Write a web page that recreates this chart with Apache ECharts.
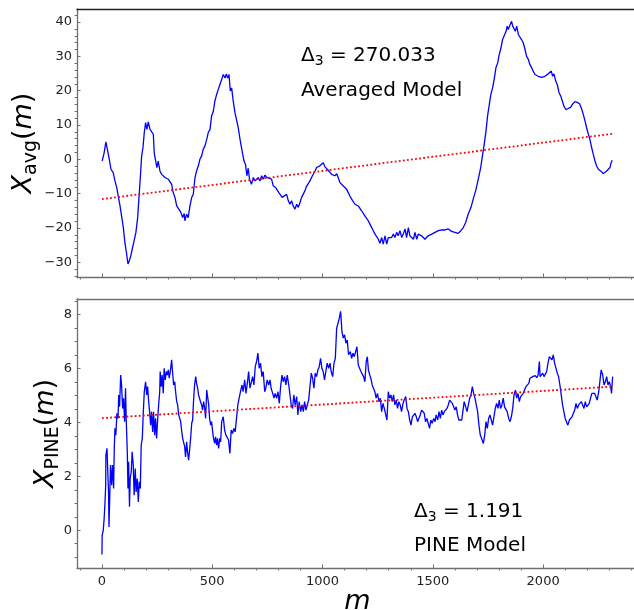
<!DOCTYPE html>
<html>
<head>
<meta charset="utf-8">
<script src="https://cdn.jsdelivr.net/npm/echarts@6/dist/echarts.min.js"></script>
<style>
  html, body { margin: 0; padding: 0; background: #ffffff; }
  #chart { width: 634px; height: 610px; }
</style>
</head>
<body>
<div id="chart"></div>
<script>
// Major tick positions
const mTicks = [0, 500, 1000, 1500, 2000];
const avgTicks = [-30, -20, -10, 0, 10, 20, 30, 40];
const pineTicks = [0, 2, 4, 6, 8];

// Averaged model trajectory: [m, X_avg(m)]
const avgSeries = [
  [1,-0.5],[10,1.9],[18,5.1],[26,4.8],[32,0.5],[41,-2.9],[51,-3.9],[59,-6.3],[67,-8.2],[74,-10.7],
  [82,-13.6],[89,-16.5],[97,-19.9],[104,-24.2],[112,-27.6],[118,-30.5],[125,-29.4],[131,-28.1],[139,-25.7],[146,-23.7],
  [154,-21.3],[162,-17.0],[168,-11.1],[174,-5.3],[180,1.0],[186,3.4],[192,7.8],[198,10.7],[204,8.7],[210,10.9],
  [218,8.7],[225,8.2],[233,7.3],[237,1.9],[243,2.4],[249,-2.4],[255,-0.5],[263,-3.4],[271,-4.4],[278,-4.8],
  [286,-5.3],[293,-5.1],[301,-5.8],[308,-6.3],[316,-7.3],[323,-9.7],[331,-11.1],[339,-13.6],[346,-13.1],[354,-15.0],
  [361,-16.0],[366,-17.0],[373,-15.8],[376,-17.9],[384,-16.0],[391,-17.0],[399,-13.6],[407,-11.1],[414,-10.2],[422,-5.3],
  [429,-3.4],[437,-1.9],[444,0],[452,1.0],[459,2.9],[467,3.9],[475,5.8],[482,7.8],[490,8.7],[497,12.6],
  [505,14.0],[512,17.0],[520,18.9],[527,20.3],[535,21.8],[543,23.3],[550,24.7],[558,23.7],[564,24.9],[570,23.7],
  [576,24.7],[582,19.9],[588,20.8],[595,17.0],[603,13.6],[611,13.1],[618,9.2],[626,5.8],[633,5.3],[638,1.5],
  [644,-0.5],[651,-1.5],[657,-4.8],[663,-2.6],[669,-5.8],[678,-7.3],[686,-5.3],[694,-6.3],[701,-6.8],[709,-5.3],
  [716,-6.3],[724,-4.8],[731,-5.8],[739,-4.6],[747,-5.3],[754,-5.1],[769,-5.8],[777,-7.8],[787,-8.2],[796,-8.2],
  [802,-9.7],[811,-9.2],[817,-11.1],[826,-10.7],[837,-10.2],[845,-12.1],[852,-13.1],[860,-12.1],[867,-13.6],[875,-14.5],
  [883,-13.1],[890,-14.0],[898,-12.6],[905,-11.1],[913,-10.7],[920,-9.2],[928,-7.8],[935,-8.2],[943,-6.3],[950,-5.3],
  [958,-4.8],[966,-3.4],[973,-2.4],[981,-1.9],[988,-1.9],[996,-1.5],[1003,-1.0],[1011,-2.2],[1018,-1.9],[1026,-3.2],
  [1034,-2.9],[1041,-4.4],[1049,-4.2],[1056,-4.8],[1064,-4.2],[1071,-5.3],[1079,-6.8],[1086,-6.3],[1094,-7.8],[1102,-7.3],
  [1109,-8.7],[1117,-9.2],[1124,-10.7],[1132,-11.6],[1139,-12.1],[1147,-13.1],[1155,-12.6],[1162,-13.6],[1170,-14.0],[1177,-15.0],
  [1185,-15.5],[1192,-16.5],[1200,-17.0],[1207,-17.9],[1215,-18.9],[1223,-19.9],[1230,-20.8],[1238,-21.8],[1245,-22.3],[1253,-23.3],
  [1260,-24.5],[1268,-22.8],[1275,-24.7],[1283,-22.3],[1291,-24.7],[1298,-22.8],[1306,-22.3],[1313,-22.8],[1321,-21.8],[1328,-22.8],
  [1336,-21.3],[1343,-22.3],[1351,-20.8],[1359,-22.8],[1366,-21.8],[1374,-20.3],[1381,-22.8],[1389,-19.9],[1396,-22.3],[1404,-21.8],
  [1412,-23.3],[1419,-21.3],[1427,-23.3],[1434,-21.8],[1442,-22.3],[1449,-22.3],[1457,-21.8],[1464,-23.3],[1472,-22.8],[1479,-22.3],
  [1487,-22.6],[1495,-21.8],[1502,-22.3],[1510,-21.3],[1517,-20.8],[1525,-20.8],[1540,-20.6],[1555,-20.6],[1570,-20.3],[1585,-21.0],
  [1600,-21.3],[1615,-21.6],[1627,-20.8],[1638,-19.9],[1649,-18.4],[1660,-16.0],[1673,-14.0],[1683,-11.6],[1694,-9.2],[1706,-5.8],
  [1717,-2.4],[1726,1.5],[1733,4.4],[1741,8.2],[1748,12.6],[1756,16.0],[1763,18.9],[1771,20.8],[1778,23.3],[1786,26.7],
  [1794,28.1],[1801,30.5],[1809,32.5],[1816,34.9],[1824,35.4],[1832,37.3],[1837,38.8],[1842,37.8],[1850,39.2],[1857,40.2],
  [1862,38.8],[1868,39.2],[1874,37.3],[1880,38.8],[1888,36.3],[1895,36.8],[1902,34.9],[1910,33.9],[1918,32.0],[1925,30.0],
  [1933,29.1],[1940,27.6],[1948,26.7],[1955,25.7],[1963,24.7],[1970,24.2],[1978,24.2],[1985,23.7],[1993,23.9],[2000,24.2],
  [2008,24.2],[2016,24.7],[2023,24.9],[2031,24.7],[2037,25.7],[2043,24.2],[2049,24.9],[2057,22.8],[2064,21.8],[2072,19.4],
  [2080,18.4],[2087,17.0],[2094,15.5],[2103,14.5],[2114,14.8],[2125,15.2],[2135,16.2],[2144,16.8],[2155,16.6],[2165,16.2],
  [2174,14.8],[2182,13.1],[2190,11.1],[2197,9.2],[2205,7.3],[2212,5.8],[2220,3.4],[2227,1.5],[2235,-0.5],[2242,-1.9],
  [2250,-2.9],[2257,-3.4],[2265,-3.6],[2272,-4.2],[2280,-4.2],[2288,-3.4],[2295,-2.9],[2303,-2.4],[2307,-1.2],[2313,-0.3]
];

// PINE model trajectory: [m, X_PINE(m)]
const pineSeries = [
  [0,-0.9],[1,-0.19],[6,0.0],[10,0.43],[14,1.05],[17,1.67],[18,2.79],[23,3.04],[26,2.29],[30,1.42],
  [32,0.12],[36,1.42],[39,2.42],[44,1.67],[48,2.42],[53,1.55],[56,3.04],[59,3.78],[63,3.53],[68,4.34],
  [73,4.15],[76,5.02],[80,4.58],[85,5.76],[89,5.39],[94,4.52],[98,4.90],[103,4.03],[107,5.27],[110,4.15],
  [115,2.91],[118,1.55],[121,2.54],[125,0.87],[128,1.92],[133,2.17],[137,2.91],[142,2.42],[146,1.30],[151,2.29],
  [155,1.42],[160,1.92],[165,1.05],[169,1.80],[174,1.55],[178,3.16],[183,3.41],[187,4.28],[192,5.14],[198,5.51],
  [203,5.02],[207,5.33],[212,4.77],[216,4.40],[221,3.90],[225,4.40],[230,3.65],[234,4.40],[239,3.53],[243,4.15],
  [248,3.41],[252,4.03],[257,4.65],[262,5.14],[264,5.89],[269,5.33],[273,5.76],[278,5.08],[282,6.01],[287,5.58],
  [292,5.89],[296,5.76],[301,5.95],[305,5.64],[310,5.89],[316,6.32],[320,5.89],[325,5.39],[330,5.51],[334,5.14],
  [339,4.77],[343,4.65],[348,4.28],[352,4.28],[357,4.03],[361,3.72],[366,3.41],[370,3.35],[375,3.10],[379,2.72],
  [384,3.28],[388,2.91],[393,2.60],[398,3.04],[402,3.41],[407,3.97],[411,4.09],[416,4.90],[420,5.39],[425,5.70],
  [429,5.45],[434,5.27],[438,5.02],[443,5.08],[447,4.77],[452,4.65],[456,4.46],[461,4.77],[466,4.52],[470,4.15],
  [475,5.20],[479,4.96],[484,4.65],[488,4.15],[493,3.90],[497,4.03],[502,3.65],[506,3.41],[511,3.22],[515,3.47],
  [520,3.16],[524,3.41],[529,3.04],[534,3.41],[538,3.28],[543,4.03],[550,4.21],[556,3.72],[562,3.53],[568,3.59],
  [574,3.35],[580,2.85],[586,3.72],[592,3.59],[598,3.78],[604,3.65],[610,4.15],[616,4.65],[622,4.90],[628,5.14],
  [635,5.39],[640,5.14],[647,5.58],[653,5.08],[659,5.45],[665,5.89],[671,5.27],[677,5.20],[683,5.70],[689,5.39],
  [695,6.07],[701,6.26],[707,6.57],[713,6.01],[719,6.20],[725,5.70],[731,5.89],[738,5.14],[743,5.27],[749,5.58],
  [756,5.39],[762,5.58],[767,5.27],[774,5.08],[780,4.90],[785,5.08],[792,4.90],[798,5.14],[804,4.71],[810,5.33],
  [816,5.76],[822,5.51],[828,5.70],[834,5.39],[840,5.76],[847,5.39],[852,5.33],[858,4.65],[864,4.52],[870,5.02],
  [876,4.65],[883,4.96],[888,4.28],[894,4.77],[901,4.40],[907,4.65],[913,4.40],[919,4.77],[925,4.46],[931,4.65],
  [937,4.83],[943,5.33],[949,5.83],[955,5.64],[961,5.27],[967,5.83],[973,5.70],[979,5.95],[985,6.07],[991,6.38],
  [997,6.01],[1003,5.89],[1009,5.58],[1015,5.89],[1021,6.20],[1028,6.01],[1034,6.20],[1039,5.89],[1046,5.70],[1052,6.20],
  [1058,6.38],[1064,7.50],[1070,7.68],[1076,7.87],[1082,8.12],[1088,7.37],[1094,7.13],[1100,7.25],[1106,6.94],[1112,7.06],
  [1118,6.51],[1126,6.63],[1132,6.38],[1138,6.57],[1144,6.44],[1150,6.63],[1156,6.81],[1162,6.13],[1168,6.07],[1174,5.89],
  [1180,5.95],[1186,5.70],[1192,5.51],[1198,6.26],[1203,6.44],[1208,5.95],[1214,5.76],[1219,5.64],[1225,5.39],[1231,5.27],
  [1237,5.14],[1243,4.90],[1249,5.08],[1256,4.77],[1262,4.90],[1268,4.40],[1274,4.71],[1280,4.52],[1286,4.58],[1292,4.09],
  [1298,5.14],[1304,4.90],[1310,5.02],[1316,4.77],[1322,5.02],[1328,4.65],[1334,4.83],[1340,4.52],[1346,4.77],[1352,4.65],
  [1358,4.40],[1365,4.71],[1370,4.83],[1377,4.96],[1383,4.52],[1389,4.40],[1395,4.09],[1401,3.90],[1407,4.21],[1413,4.15],
  [1419,4.34],[1425,4.21],[1431,4.03],[1437,4.09],[1443,4.28],[1449,4.46],[1455,4.52],[1461,4.34],[1467,4.03],[1473,4.15],
  [1479,3.97],[1485,3.78],[1491,4.09],[1497,3.97],[1504,4.15],[1510,4.03],[1515,4.28],[1522,4.09],[1528,4.40],[1534,4.15],
  [1540,4.46],[1546,4.28],[1552,4.40],[1558,4.34],[1564,4.52],[1570,4.65],[1576,4.83],[1582,4.90],[1588,4.71],[1594,4.65],
  [1600,4.46],[1606,4.58],[1612,4.28],[1618,4.09],[1624,4.15],[1631,4.09],[1636,4.40],[1642,4.77],[1649,4.58],[1655,4.40],
  [1661,4.65],[1667,4.90],[1673,5.02],[1679,5.33],[1685,5.08],[1691,4.90],[1697,4.65],[1703,4.40],[1709,3.90],[1715,3.53],
  [1721,3.41],[1729,3.22],[1735,3.53],[1741,4.03],[1747,3.78],[1753,4.15],[1759,4.28],[1765,4.09],[1771,3.90],[1777,4.21],
  [1783,4.52],[1789,4.71],[1795,4.52],[1801,4.83],[1807,4.52],[1813,4.65],[1819,4.90],[1825,4.58],[1831,4.65],[1837,4.40],
  [1844,4.15],[1850,4.03],[1856,4.21],[1862,4.52],[1868,5.02],[1874,5.20],[1880,4.90],[1886,5.08],[1892,4.77],[1898,4.96],
  [1904,4.90],[1910,5.08],[1916,5.14],[1922,5.33],[1928,5.27],[1935,5.45],[1940,5.64],[1946,5.58],[1953,5.70],[1958,5.64],
  [1964,5.74],[1971,5.66],[1977,5.76],[1983,6.26],[1986,5.70],[1991,5.64],[1998,5.83],[2004,5.70],[2010,5.76],[2016,5.89],
  [2022,6.20],[2028,6.44],[2034,6.51],[2040,6.32],[2046,6.51],[2052,6.20],[2058,6.26],[2064,5.83],[2070,5.70],[2076,5.39],
  [2082,5.02],[2088,4.65],[2094,4.40],[2100,4.15],[2107,4.21],[2112,3.90],[2119,4.09],[2125,4.03],[2131,4.21],[2137,4.28],
  [2143,4.46],[2149,4.71],[2155,4.52],[2161,4.65],[2167,4.58],[2173,4.77],[2179,4.65],[2185,4.52],[2191,4.77],[2197,4.58],
  [2203,4.65],[2209,4.71],[2215,4.90],[2221,5.08],[2227,5.14],[2233,5.08],[2239,4.96],[2245,4.83],[2252,5.14],[2257,5.51],
  [2263,5.95],[2270,5.76],[2276,5.39],[2282,5.51],[2288,5.70],[2294,5.39],[2300,5.51],[2306,5.33],[2310,5.08],[2315,5.70]
];

// Linear trend lines (end points)
const avgTrend = [[0, -11.6], [2316, 7.45]];
const pineTrend = [[0, 4.16], [2316, 5.33]];

// Annotation values
const avgDelta = '270.033';
const pineDelta = '1.191';

// ---- styling / layout ----
const FONT = 'DejaVu Sans';
const SPINE = '#6f6f6f';
const M_MIN = -113, M_MAX = 2430;
const AVG_MIN = -34.3, AVG_MAX = 43.8;
const PINE_MIN = -1.4, PINE_MAX = 8.58;

function minorTicks(lo, hi, step, major) {
  const out = [];
  for (let k = Math.ceil(lo / step); k * step <= hi; k++) {
    const v = +(k * step).toFixed(6);
    const r = v / major;
    if (Math.abs(r - Math.round(r)) > 1e-9) out.push(v);
  }
  return out;
}
const plain = v => String(v).replace('-', '\u2212');

function majorX(grid, withLabels) {
  return {
    type: 'value', gridIndex: grid, position: 'bottom', min: M_MIN, max: M_MAX,
    axisLine: { show: true, onZero: false, lineStyle: { color: SPINE, width: 1.3 } },
    axisTick: { show: true, inside: true, length: 3.5, customValues: mTicks, lineStyle: { color: SPINE, width: 1 } },
    axisLabel: withLabels
      ? { show: true, customValues: mTicks, margin: 7, fontFamily: FONT, fontSize: 13, color: '#222', formatter: plain }
      : { show: false },
    splitLine: { show: false }
  };
}
function minorX(grid) {
  return {
    type: 'value', gridIndex: grid, position: 'bottom', offset: 0, min: M_MIN, max: M_MAX,
    axisLine: { show: false, onZero: false },
    axisTick: { show: true, inside: false, length: 2.5, customValues: minorTicks(-100, 2400, 100, 500), lineStyle: { color: SPINE, width: 1 } },
    axisLabel: { show: false }, splitLine: { show: false }
  };
}
function topX(grid, color) {
  return {
    type: 'value', gridIndex: grid, position: 'top', min: M_MIN, max: M_MAX,
    axisLine: { show: true, onZero: false, lineStyle: { color: color, width: 1.3 } },
    axisTick: { show: false }, axisLabel: { show: false }, splitLine: { show: false }
  };
}
function majorY(grid, min, max, ticks, name, gap) {
  return {
    type: 'value', gridIndex: grid, position: 'left', min: min, max: max,
    axisLine: { show: true, onZero: false, lineStyle: { color: SPINE, width: 1.3 } },
    axisTick: { show: true, inside: true, length: 3.5, customValues: ticks, lineStyle: { color: SPINE, width: 1 } },
    axisLabel: { show: true, customValues: ticks, margin: 5, fontFamily: FONT, fontSize: 13, color: '#222', formatter: plain },
    splitLine: { show: false },
    name: name, nameLocation: 'middle', nameGap: gap, nameRotate: 90, nameMoveOverlap: false,
    nameTextStyle: {
      rich: {
        x: { fontFamily: FONT, fontSize: 27, fontStyle: 'italic', color: '#000', lineHeight: 34 },
        s: { fontFamily: FONT, fontSize: 19, color: '#000', lineHeight: 19, verticalAlign: 'bottom' },
        p: { fontFamily: FONT, fontSize: 27, color: '#000', lineHeight: 34 },
        i: { fontFamily: FONT, fontSize: 27, fontStyle: 'italic', color: '#000', lineHeight: 34 }
      }
    }
  };
}
function minorY(grid, min, max, step, major) {
  return {
    type: 'value', gridIndex: grid, position: 'left', offset: 0, min: min, max: max,
    axisLine: { show: false, onZero: false },
    axisTick: { show: true, inside: false, length: 2.5, customValues: minorTicks(min, max, step, major), lineStyle: { color: SPINE, width: 1 } },
    axisLabel: { show: false }, splitLine: { show: false }
  };
}

const bottomMajor = majorX(1, true);
bottomMajor.name = 'm';
bottomMajor.nameLocation = 'middle';
bottomMajor.nameGap = 19;
bottomMajor.nameTextStyle = { fontFamily: FONT, fontSize: 27, fontStyle: 'italic', color: '#000' };

const blueLine = { color: '#0000ff', width: 1.3 };
const redDots = { color: '#ff0000', width: 1.8, type: [1.8, 2.3] };

// Annotation text: Δ with subscript 3, then the value
function deltaText(x, y, value) {
  return {
    type: 'text', x: x, y: y,
    style: {
      text: '{d|\u0394}{s|3}{d| = ' + value + '}',
      align: 'left', verticalAlign: 'middle',
      rich: {
        d: { fontFamily: FONT, fontSize: 20, color: '#000', lineHeight: 24 },
        s: { fontFamily: FONT, fontSize: 14, color: '#000', lineHeight: 14, verticalAlign: 'bottom' }
      }
    }
  };
}
function plainText(x, y, text) {
  return { type: 'text', x: x, y: y, style: { text: text, fontFamily: FONT, fontSize: 20, fill: '#000', align: 'left', verticalAlign: 'middle' } };
}

const option = {
  animation: false,
  backgroundColor: '#ffffff',
  grid: [
    { left: 77, right: -4, top: 9, height: 268, outerBoundsMode: 'none' },
    { left: 77, right: -4, top: 299, height: 269, outerBoundsMode: 'none' }
  ],
  xAxis: [majorX(0, false), minorX(0), topX(0, '#222'), bottomMajor, minorX(1), topX(1, SPINE)],
  yAxis: [
    majorY(0, AVG_MIN, AVG_MAX, avgTicks, '{x|X}{s|avg}{p|(}{i|m}{p|)}', 36),
    minorY(0, AVG_MIN, AVG_MAX, 2, 10),
    majorY(1, PINE_MIN, PINE_MAX, pineTicks, '{x|X}{s|PINE}{p|(}{i|m}{p|)}', 14),
    minorY(1, PINE_MIN, PINE_MAX, 0.5, 2)
  ],
  series: [
    { type: 'line', xAxisIndex: 0, yAxisIndex: 0, data: avgSeries, showSymbol: false, lineStyle: blueLine, z: 2 },
    { type: 'line', xAxisIndex: 0, yAxisIndex: 0, data: avgTrend, showSymbol: false, lineStyle: redDots, z: 3 },
    { type: 'line', xAxisIndex: 3, yAxisIndex: 2, data: pineSeries, showSymbol: false, lineStyle: blueLine, z: 2 },
    { type: 'line', xAxisIndex: 3, yAxisIndex: 2, data: pineTrend, showSymbol: false, lineStyle: redDots, z: 3 }
  ],
  graphic: [
    deltaText(301, 56, avgDelta),
    plainText(301, 90.5, 'Averaged Model'),
    deltaText(414, 512, pineDelta),
    plainText(414, 546, 'PINE Model')
  ]
};

const chart = echarts.init(document.getElementById('chart'), null, { renderer: 'canvas' });
chart.setOption(option);
</script>
</body>
</html>
